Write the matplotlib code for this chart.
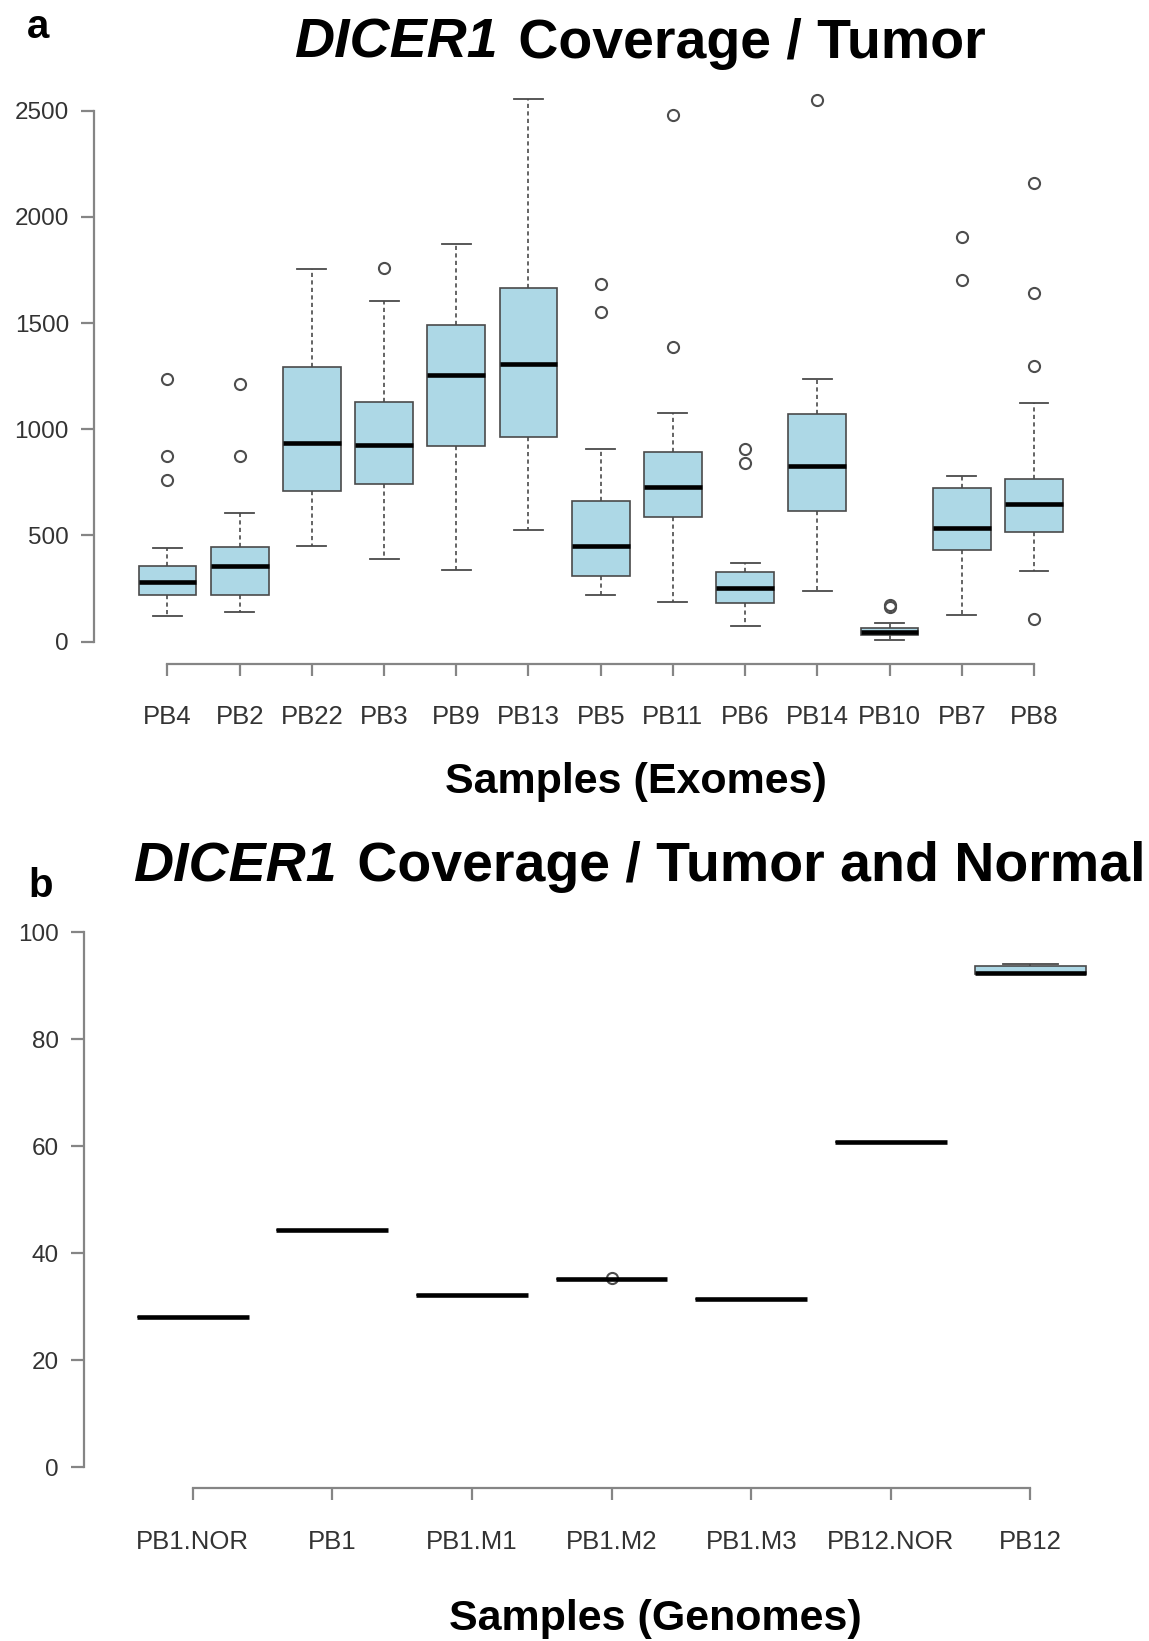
import matplotlib
matplotlib.use("Agg")
import matplotlib.pyplot as plt

plt.rcParams['font.family'] = ['Liberation Sans', 'DejaVu Sans']

# ---------------- data: panel a (exomes) ----------------
exome_names = ["PB4", "PB2", "PB22", "PB3", "PB9", "PB13", "PB5", "PB11",
               "PB6", "PB14", "PB10", "PB7", "PB8"]
exome_whislo = [120, 141, 452, 389, 336, 524, 219, 185, 74, 240, 8, 126, 334]
exome_q1 = [221, 221, 709, 744, 919, 963, 309, 587, 183, 614, 32, 431, 515]
exome_med = [280, 357, 936, 927, 1253, 1306, 452, 728, 254, 828, 47, 536, 646]
exome_q3 = [355, 444, 1295, 1127, 1493, 1663, 662, 894, 326, 1070, 62, 721, 765]
exome_whishi = [439, 603, 1754, 1602, 1873, 2555, 908, 1077, 372, 1238, 85, 780, 1123]
exome_fliers = [[1236, 873, 761], [1211, 873], [], [1758], [], [],
                [1684, 1554], [2481, 1388], [906, 839], [2550], [163, 170],
                [1907, 1705], [2161, 1642, 1297, 105]]
exome_yticks = [0, 500, 1000, 1500, 2000, 2500]

# ---------------- data: panel b (genomes) ----------------
genome_names = ["PB1.NOR", "PB1", "PB1.M1", "PB1.M2", "PB1.M3", "PB12.NOR", "PB12"]
genome_whislo = [28.1, 44.4, 32.1, 35.2, 31.5, 60.7, 92.2]
genome_q1 = [28.1, 44.4, 32.1, 35.2, 31.5, 60.7, 92.2]
genome_med = [28.1, 44.4, 32.1, 35.2, 31.5, 60.7, 92.4]
genome_q3 = [28.1, 44.4, 32.1, 35.2, 31.5, 60.7, 93.8]
genome_whishi = [28.1, 44.4, 32.1, 35.2, 31.5, 60.7, 94.1]
genome_fliers = [[], [], [], [35.3], [], [], []]
genome_yticks = [0, 20, 40, 60, 80, 100]

W, H = 1149, 1641
DPI = 100
fig = plt.figure(figsize=(W / DPI, H / DPI), dpi=DPI)


def frac(x, y):
    return x / W, 1 - y / H


AX_COL = "#858585"
LBL_COL = "#333333"
BOX_FILL = "#ADD8E6"
BOX_EDGE = "#4a4a4a"


def make_stats(names, wlo, q1, med, q3, whi, fl):
    stats = []
    for i in range(len(names)):
        stats.append(dict(label=names[i], whislo=wlo[i], q1=q1[i], med=med[i],
                          q3=q3[i], whishi=whi[i], fliers=fl[i]))
    return stats


def draw(ax, stats, names, yticks, xlim, ylim):
    pos = list(range(1, len(names) + 1))
    ax.bxp(stats, positions=pos, widths=0.8, patch_artist=True,
           capwidths=0.4, showfliers=True,
           boxprops=dict(facecolor=BOX_FILL, edgecolor=BOX_EDGE, linewidth=1.2),
           medianprops=dict(color="black", linewidth=3.3, solid_capstyle="butt"),
           whiskerprops=dict(color=BOX_EDGE, linewidth=1.2, linestyle=(0, (2.5, 2.0))),
           capprops=dict(color=BOX_EDGE, linewidth=1.3),
           flierprops=dict(marker="o", markersize=8.0, markerfacecolor="none",
                           markeredgecolor="#4d4d4d", markeredgewidth=1.5))
    ax.set_xlim(*xlim)
    ax.set_ylim(*ylim)
    ax.set_xticks(pos)
    ax.set_xticklabels(names)
    ax.set_yticks(yticks)
    ax.set_yticklabels([str(v) for v in yticks])
    for s in ["top", "right"]:
        ax.spines[s].set_visible(False)
    for s in ["left", "bottom"]:
        ax.spines[s].set_color(AX_COL)
        ax.spines[s].set_linewidth(1.6)
    ax.spines["bottom"].set_bounds(pos[0], pos[-1])
    ax.spines["left"].set_bounds(yticks[0], yticks[-1])
    ax.tick_params(axis="both", colors=AX_COL, width=1.6, labelcolor=LBL_COL)
    ax.tick_params(axis="y", length=9.4, pad=8.5, labelsize=17.5)
    ax.tick_params(axis="x", length=8.6, pad=21, labelsize=18.5)
    ax.patch.set_alpha(0)


# panel a axes
ax1 = fig.add_axes([93.8 / W, 1 - 663.8 / H, (1107.6 - 93.8) / W, 586.0 / H])
draw(ax1, make_stats(exome_names, exome_whislo, exome_q1, exome_med, exome_q3,
                     exome_whishi, exome_fliers),
     exome_names, exome_yticks, (-0.02, 14.02), (-105, 2655))

# panel b axes
ax2 = fig.add_axes([83.8 / W, 1 - 1488.4 / H, (1139.4 - 83.8) / W, 577.4 / H])
draw(ax2, make_stats(genome_names, genome_whislo, genome_q1, genome_med, genome_q3,
                     genome_whishi, genome_fliers),
     genome_names, genome_yticks, (0.22, 7.78), (-4, 104))

# titles (gene name in bold italic)
TFS = 40


def title(x, y, rest):
    t1 = fig.text(*frac(x, y), "DICER1", fontsize=TFS, fontweight="bold",
                  fontstyle="italic", ha="left", va="baseline")
    ann = plt.annotate(rest, xy=(1, 0), xycoords=t1, xytext=(4, 0),
                       textcoords="offset points", fontsize=TFS,
                       fontweight="bold", ha="left", va="bottom",
                       annotation_clip=False)
    return t1, ann


title(294, 58, " Coverage / Tumor")
title(133, 881, " Coverage / Tumor and Normal")

# x-axis titles
fig.text(*frac(636, 793), "Samples (Exomes)", fontsize=31, fontweight="bold",
         ha="center", va="baseline")
fig.text(*frac(655, 1630), "Samples (Genomes)", fontsize=31, fontweight="bold",
         ha="center", va="baseline")

# panel letters
fig.text(*frac(27, 38), "a", fontsize=29, fontweight="bold", ha="left", va="baseline")
fig.text(*frac(28, 897), "b", fontsize=29, fontweight="bold", ha="left", va="baseline")

fig.savefig("out.png", dpi=DPI)
